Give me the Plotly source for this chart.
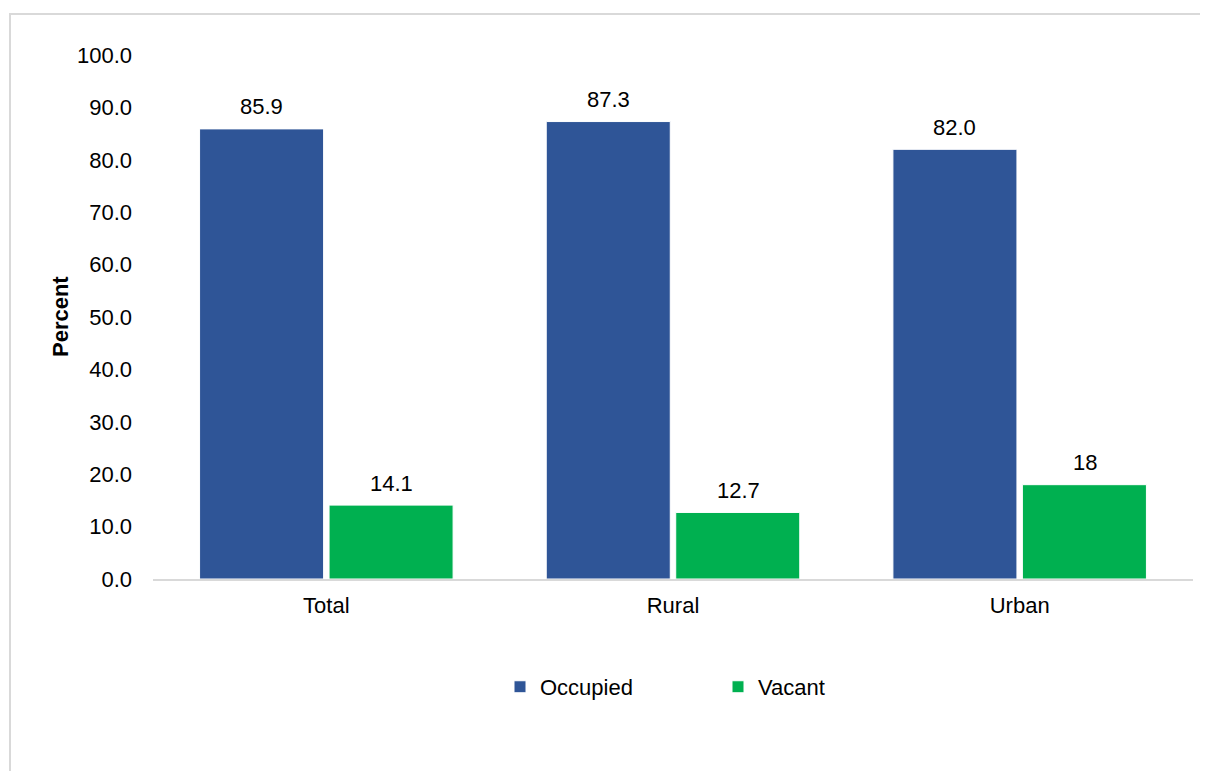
import plotly.graph_objects as go

categories = ["Total", "Rural", "Urban"]
occupied = [85.9, 87.3, 82.0]
vacant = [14.1, 12.7, 18.0]
occupied_labels = ["85.9", "87.3", "82.0"]
vacant_labels = ["14.1", "12.7", "18"]
y_ticks = [0, 10, 20, 30, 40, 50, 60, 70, 80, 90, 100]
y_tick_labels = [f"{v:.1f}" for v in y_ticks]

FONT = "Liberation Sans Narrow, Arial Narrow, Liberation Sans, Arial, sans-serif"
FS = 22
BLUE = "#2F5597"
GREEN = "#00B050"

fig = go.Figure()
fig.add_trace(go.Bar(name="Occupied", x=categories, y=occupied, marker=dict(color=BLUE, line=dict(color="white", width=1))))
fig.add_trace(go.Bar(name="Vacant", x=categories, y=vacant, marker=dict(color=GREEN, line=dict(color="white", width=1))))

annotations = []
for i, c in enumerate(categories):
    annotations.append(dict(x=c, y=occupied[i], text=occupied_labels[i], xref="x", yref="y",
                            showarrow=False, yanchor="middle", yshift=22, xshift=-65,
                            font=dict(family=FONT, size=FS, color="#000")))
    annotations.append(dict(x=c, y=vacant[i], text=vacant_labels[i], xref="x", yref="y",
                            showarrow=False, yanchor="middle", yshift=22, xshift=65,
                            font=dict(family=FONT, size=FS, color="#000")))
annotations.append(dict(x=-0.0894, y=0.5, xref="paper", yref="paper", text="<b>Percent</b>",
                        textangle=-90, showarrow=False, xanchor="center", yanchor="middle",
                        font=dict(family=FONT, size=FS, color="#000")))

fig.update_layout(
    width=1200, height=763,
    margin=dict(l=145, r=15, t=47, b=192),
    paper_bgcolor="white", plot_bgcolor="white",
    barmode="group", bargap=0.253, bargroupgap=0.042,
    font=dict(family=FONT, size=FS, color="#000"),
    showlegend=True,
    legend=dict(orientation="h", x=(500 - 153) / 1040, xanchor="left", y=-0.206, yanchor="middle",
                font=dict(family=FONT, size=FS, color="#000"), entrywidth=173, itemwidth=30),
    annotations=annotations,
    shapes=[dict(type="rect", xref="paper", yref="paper", x0=-0.1375, x1=1.05, y0=-0.4, y1=1.0782,
                 line=dict(color="#d9d9d9", width=2), fillcolor="rgba(0,0,0,0)", layer="below")],
    xaxis=dict(showline=True, linecolor="#d9d9d9", linewidth=2, ticks="", showgrid=False,
               ticklabelstandoff=6, tickfont=dict(family=FONT, size=FS, color="#000")),
    yaxis=dict(range=[0, 100], tickvals=y_ticks, ticktext=y_tick_labels, showgrid=False,
               zeroline=False, showline=False, ticks="", ticklabelstandoff=20,
               tickfont=dict(family=FONT, size=FS, color="#000")),
)

fig.write_html("out.html")
